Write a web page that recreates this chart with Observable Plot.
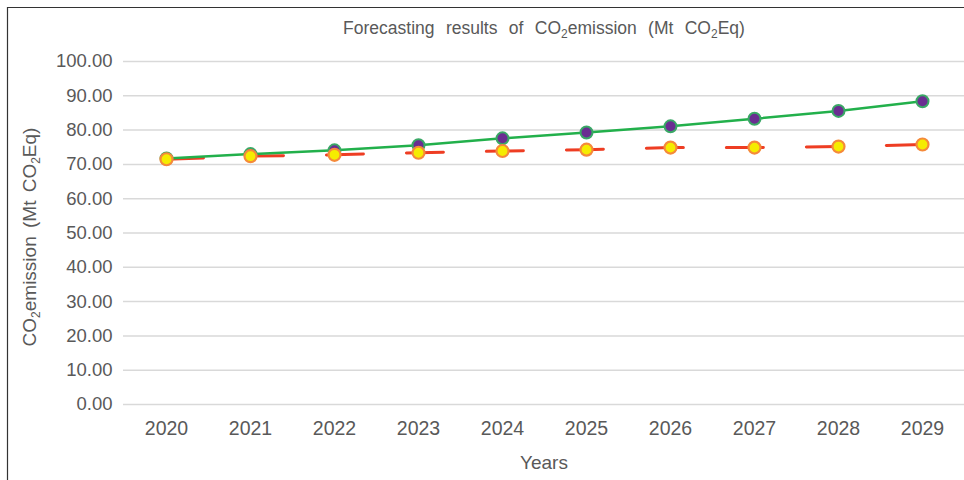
<!DOCTYPE html>
<html>
<head>
<meta charset="utf-8">
<script src="https://cdn.jsdelivr.net/npm/d3@7"></script>
<script src="https://cdn.jsdelivr.net/npm/@observablehq/plot@0.6"></script>
<style>
  html, body { margin: 0; padding: 0; background: #fff; }
</style>
</head>
<body>
<div id="chart"></div>
<script>
const years = ["2020","2021","2022","2023","2024","2025","2026","2027","2028","2029"];
const seriesGreen = [71.7, 73.0, 74.1, 75.6, 77.6, 79.3, 81.1, 83.3, 85.6, 88.4];
const seriesYellow = [71.5, 72.4, 72.8, 73.4, 73.9, 74.3, 74.9, 74.9, 75.2, 75.8];
const yTicks = [0, 10, 20, 30, 40, 50, 60, 70, 80, 90, 100];

const data = years.map((year, i) => ({ year, a: seriesGreen[i], b: seriesYellow[i] }));

const textColor = "#595959";
const fontFam = "'Liberation Sans', Arial, sans-serif";

const svg = Plot.plot({
  width: 964,
  height: 480,
  marginLeft: 123,
  marginRight: 0,
  marginTop: 61,
  marginBottom: 76,
  style: { fontFamily: fontFam, fontSize: "18px", color: textColor, background: "white", overflow: "visible" },
  x: { type: "point", domain: years, padding: 0.5, label: null },
  y: { domain: [0, 100], label: null },
  marks: [
    Plot.gridY(yTicks, { stroke: "#d9d9d9", strokeOpacity: 1, strokeWidth: 1.5 }),
    Plot.axisY(yTicks, { tickSize: 0, tickPadding: 11, tickFormat: d => d.toFixed(2), label: null, fill: textColor, fontSize: 18.5 }),
    Plot.axisX({ tickSize: 0, tickPadding: 17, label: null, fill: textColor, fontSize: 19.5 }),
    Plot.line(data, { x: "year", y: "b", stroke: "#ee3d23", strokeWidth: 3, strokeDasharray: "37,43" }),
    Plot.line(data, { x: "year", y: "a", stroke: "#22b04b", strokeWidth: 2.5 }),
    Plot.dot(data, { x: "year", y: "a", r: 6, fill: "#6a2e91", stroke: "#3aa866", strokeWidth: 2 }),
    Plot.dot(data, { x: "year", y: "b", r: 6, fill: "#f5ec00", stroke: "#f58a3a", strokeWidth: 2.2 })
  ]
});

document.getElementById("chart").appendChild(svg);

const s = d3.select(svg);

// border (top and left visible)
s.append("path")
  .attr("d", "M7.5,480 L7.5,7.5 L964,7.5")
  .attr("fill", "none")
  .attr("stroke", "#333")
  .attr("stroke-width", 1.2);

function addSubText(sel) {
  sel.append("tspan").text("CO");
  sel.append("tspan").text("2").attr("font-size", "12px").attr("dy", 4);
  sel.append("tspan").text("emission (Mt CO").attr("dy", -4);
  sel.append("tspan").text("2").attr("font-size", "12px").attr("dy", 4);
  sel.append("tspan").text("Eq)").attr("dy", -4);
}

// Title
const title = s.append("text")
  .attr("x", 544).attr("y", 34)
  .attr("text-anchor", "middle")
  .attr("fill", textColor)
  .attr("font-family", fontFam)
  .attr("font-size", "17.5px")
  .attr("word-spacing", "6.5px");
title.append("tspan").text("Forecasting results of CO");
title.append("tspan").text("2").attr("font-size", "12px").attr("dy", 4);
title.append("tspan").text("emission (Mt CO").attr("dy", -4);
title.append("tspan").text("2").attr("font-size", "12px").attr("dy", 4);
title.append("tspan").text("Eq)").attr("dy", -4);

// Y label
const ylab = s.append("text")
  .attr("transform", "translate(36,237) rotate(-90)")
  .attr("text-anchor", "middle")
  .attr("fill", textColor)
  .attr("font-family", fontFam)
  .attr("font-size", "19px")
  .attr("word-spacing", "3px");
addSubText(ylab);

// X label
s.append("text")
  .attr("x", 544).attr("y", 469)
  .attr("text-anchor", "middle")
  .attr("fill", textColor)
  .attr("font-family", fontFam)
  .attr("font-size", "19px")
  .text("Years");
</script>
</body>
</html>
